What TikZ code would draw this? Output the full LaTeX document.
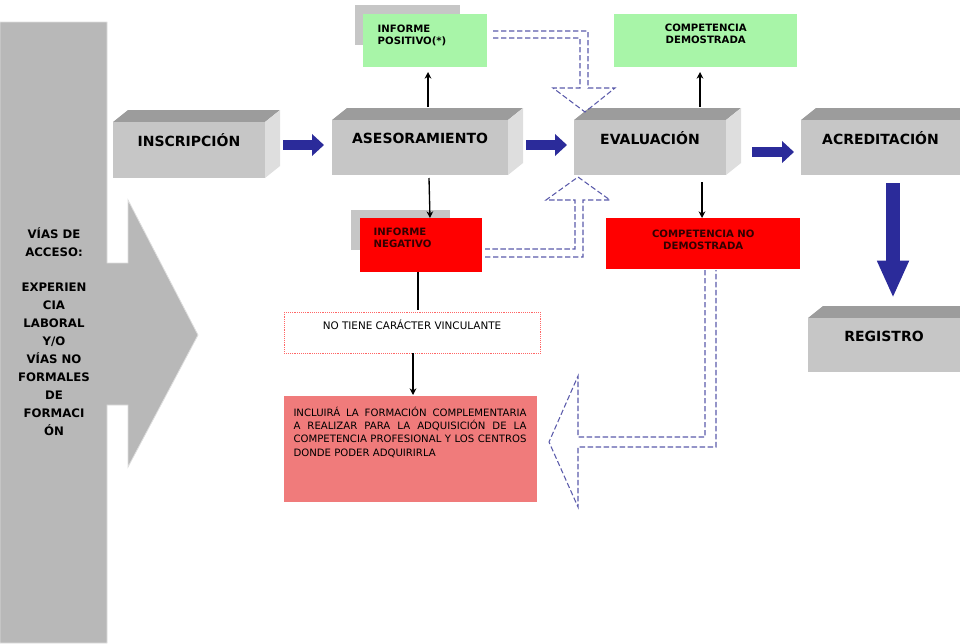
\documentclass[tikz,border=0pt]{standalone}
\usepackage{fontspec}
\setmainfont{DejaVu Sans}
\usetikzlibrary{arrows.meta}
\definecolor{front}{HTML}{C6C6C6}
\definecolor{topc}{HTML}{9C9C9C}
\definecolor{sidec}{HTML}{DEDEDE}
\definecolor{bar}{HTML}{B8B8B8}
\definecolor{lgreen}{HTML}{A8F5A8}
\definecolor{bred}{HTML}{FF0000}
\definecolor{salmon}{HTML}{F07B7B}
\definecolor{dblue}{HTML}{5A5AAA}
\definecolor{fblue}{HTML}{2B2B9A}
\tikzset{
 big/.style={font=\bfseries\fontsize{10.5}{12}\selectfont},
 sm/.style={font=\bfseries\fontsize{7.6}{9}\selectfont,align=left},
 blk/.style={-{Stealth[length=5pt,width=5pt]},line width=1pt,black},
 dsh/.style={dblue,line width=0.8pt,dash pattern=on 4pt off 2pt},
 fat/.style={fblue,line width=7pt,-{Triangle[length=9pt,width=16pt]}},
}
\newcommand{\mybox}[6]{% x1,y1,x2,y2,name,text
 \fill[topc] (#1,#2)--(#1+15,#2-12)--(#3+15,#2-12)--(#3,#2)--cycle;
 \fill[sidec] (#3,#2)--(#3+15,#2-12)--(#3+15,#4-12)--(#3,#4)--cycle;
 \fill[front] (#1,#2) rectangle (#3,#4);
 \coordinate (#5) at ({(#1+#3)/2},{(#2+#4)/2});
 \node[big] (#5t) at ({(#1+#3)/2},#2+18) {#6};
}
\begin{document}
\begin{tikzpicture}[x=0.75pt,y=-0.75pt]
\useasboundingbox (0,0) rectangle (960,643);
% left bar arrow
\fill[bar,draw=sidec,line width=0.6pt] (0,22)--(107,22)--(107,263)--(128,263)--(128,200)--(198,335)--(128,467)--(128,405)--(107,405)--(107,643)--(0,643)--cycle;
\node[font=\bfseries\fontsize{8.8}{13.5}\selectfont,align=center] (acc) at (54,242) {VÍAS DE\\ACCESO:};
\node[font=\bfseries\fontsize{8.8}{13.5}\selectfont,align=center,anchor=north] (exp) at (54,278) {EXPERIEN\\CIA\\LABORAL\\Y/O\\VÍAS NO\\FORMALES\\DE\\FORMACI\\ÓN};
% main boxes
\mybox{113}{122}{265}{178}{ins}{INSCRIPCIÓN}
\mybox{332}{120}{508}{175}{ase}{ASESORAMIENTO}
\mybox{574}{120}{726}{175}{eva}{EVALUACIÓN}
\mybox{801}{120}{960}{175}{acr}{ACREDITACIÓN}
\mybox{808}{318}{960}{372}{reg}{REGISTRO}
% fat arrows
\coordinate (f1a) at (283,145); \coordinate (f1b) at (324,145);
\coordinate (f2a) at (526,145); \coordinate (f2b) at (567,145);
\coordinate (f3a) at (752,152); \coordinate (f3b) at (794,152);
\coordinate (f4a) at (893,183); \coordinate (f4b) at (893,298);
\draw[fat] (f1a)--(f1b);
\draw[fat] (f2a)--(f2b);
\draw[fat] (f3a)--(f3b);
\draw[fblue,line width=11pt,-{Triangle[length=28pt,width=22pt]}] (f4a)--(f4b);
% small boxes
\fill[front] (355,5) rectangle (460,45);
\node[fill=lgreen,minimum width=124*0.75pt,minimum height=53*0.75pt,anchor=north west] (pos) at (363,14) {};
\node[sm,anchor=north west] at (373,20) {INFORME\\POSITIVO(*)};
\node[fill=lgreen,minimum width=183*0.75pt,minimum height=53*0.75pt,anchor=north west] (cd) at (614,14) {};
\node[sm,align=center] at (cd) [yshift=5pt] {COMPETENCIA\\DEMOSTRADA};
\fill[front] (351,210) rectangle (450,250);
\node[fill=bred,minimum width=122*0.75pt,minimum height=54*0.75pt,anchor=north west] (neg) at (360,218) {};
\node[sm,anchor=north west,text=black!80!red] at (369,223) {INFORME\\NEGATIVO};
\node[fill=bred,minimum width=194*0.75pt,minimum height=51*0.75pt,anchor=north west] (cnd) at (606,218) {};
\node[sm,align=center,text=black!80!red] at (cnd) [yshift=3pt] {COMPETENCIA NO\\DEMOSTRADA};
\node[draw=red!60,densely dotted,minimum width=256*0.75pt,minimum height=41*0.75pt,anchor=north west] (vin) at (284,312) {};
\node[font=\fontsize{7.8}{9}\selectfont] at (412,325) {NO TIENE CARÁCTER VINCULANTE};
\node[fill=salmon,minimum width=253*0.75pt,minimum height=106*0.75pt,anchor=north west] (inc) at (284,396) {};
\node[font=\fontsize{7.6}{10}\selectfont,text width=233*0.75pt,align=justify,anchor=north] at (410,402) {INCLUIRÁ LA FORMACIÓN COMPLEMENTARIA A REALIZAR PARA LA ADQUISICIÓN DE LA COMPETENCIA PROFESIONAL Y LOS CENTROS DONDE PODER ADQUIRIRLA};
% black arrows
\draw[blk] (428,107) -- (428,72);
\draw[blk] (429,178) -- (430,218);
\draw[blk] (700,107) -- (700,72);
\draw[blk] (702,182) -- (702,218);
\draw[line width=1pt] (418,272) -- (418,310);
\draw[blk] (413,353) -- (413,395);
% dashed outline arrows
\draw[dsh] (493,31)--(588,31)--(588,88)--(615,88)--(585,112)--(553,88)--(580,88)--(580,38)--(493,38);
\draw[dsh] (485,257)--(583,257)--(583,200)--(610,200)--(578,177)--(546,200)--(575,200)--(575,249)--(485,249);
\draw[dsh] (705,270)--(705,437)--(578,437)--(578,376)--(549,442)--(578,507)--(578,447)--(716,447)--(716,270);
\end{tikzpicture}
\end{document}
